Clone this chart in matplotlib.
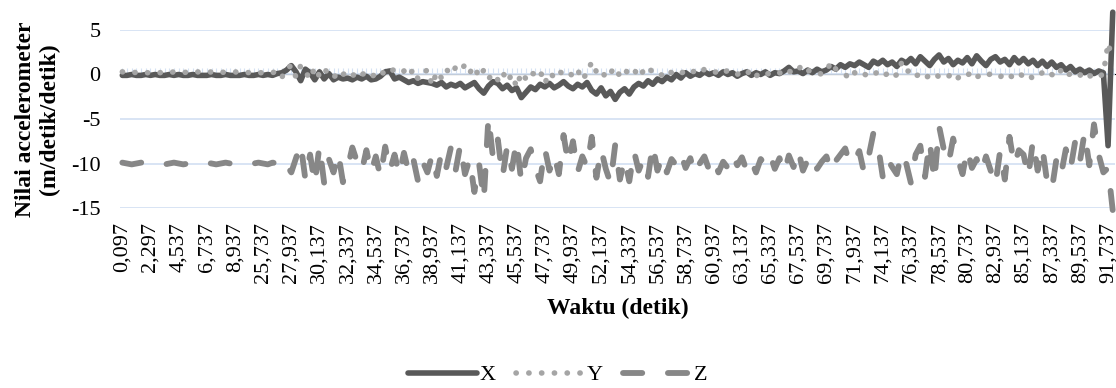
import matplotlib.pyplot as plt
import numpy as np

# time labels shown on the category axis (one every 6 samples)
time_labels = ["0,097", "2,297", "4,537", "6,737", "8,937", "25,737", "27,937",
               "30,137", "32,337", "34,537", "36,737", "38,937", "41,137", "43,337",
               "45,537", "47,737", "49,937", "52,137", "54,337", "56,537", "58,737",
               "60,937", "63,137", "65,337", "67,537", "69,737", "71,937", "74,137",
               "76,337", "78,537", "80,737", "82,937", "85,137", "87,337", "89,537",
               "91,737"]
step = 6

x_acc = [
    -0.1, -0.1, 0.0, -0.1, -0.1, 0.0,
    -0.1, 0.0, -0.1, -0.1, 0.0, -0.1,
    0.0, -0.1, -0.1, 0.0, -0.1, -0.1,
    -0.1, 0.0, -0.1, -0.1, 0.0, -0.1,
    -0.1, -0.1, 0.0, -0.1, -0.1, 0.0,
    -0.1, 0.0, -0.1, 0.1, 0.2, 0.5,
    1.0, 0.3, -0.7, 0.6, 0.2, -0.6,
    0.3, -0.5, 0.1, -0.6, -0.3, -0.5,
    -0.4, -0.6, -0.3, -0.5, -0.2, -0.6,
    -0.5, -0.2, 0.3, 0.4, -0.5, -0.3,
    -0.6, -0.9, -0.7, -1.0, -0.8, -0.9,
    -1.0, -1.2, -0.9, -1.4, -1.1, -1.3,
    -1.0, -1.5, -1.2, -0.9, -1.6, -2.1,
    -1.3, -0.8, -1.0, -1.6, -1.2, -1.8,
    -1.5, -2.6, -2.0, -1.4, -1.7, -1.1,
    -1.4, -1.0, -1.5, -1.2, -0.8, -1.3,
    -1.6, -1.1, -1.4, -0.9, -1.8, -2.2,
    -1.5, -2.4, -1.9, -2.8, -2.0, -1.6,
    -2.2, -1.4, -1.0, -1.3, -0.7, -1.1,
    -0.5, -0.8, -0.3, -0.6, 0.0, -0.4,
    0.2, -0.2, 0.1, -0.1, 0.3, 0.0,
    0.2, -0.1, 0.3, 0.0, 0.2, -0.2,
    0.1, 0.3, -0.1, 0.2, 0.0, 0.3,
    -0.1, 0.2, 0.1, 0.4, 0.8, 0.3,
    0.4, 0.1, 0.5, 0.2, 0.6, 0.3,
    0.5, 0.9, 0.6, 1.1, 0.8, 1.2,
    1.0, 1.4, 1.1, 0.8, 1.5, 1.2,
    1.6, 1.1, 1.4, 0.9, 1.6, 1.3,
    1.8, 1.2, 2.0, 1.5, 1.0, 1.7,
    2.2, 1.4, 1.8, 1.1, 1.6, 1.3,
    1.9, 1.2, 2.1, 1.5, 1.0, 1.7,
    2.0, 1.4, 1.7, 1.1, 1.9, 1.3,
    1.8, 1.2, 1.6, 1.0, 1.5, 0.9,
    1.4, 0.8, 1.1, 0.5, 0.9, 0.3,
    0.6, 0.2, 0.5, 0.1, 0.4, 0.2,
    -8.0, 7.0,
]

y_acc = [
    0.3, 0.2, 0.3, 0.2, 0.3, 0.2,
    0.2, 0.3, 0.2, 0.3, 0.2, 0.3,
    0.3, 0.2, 0.3, 0.2, 0.3, 0.2,
    0.2, 0.3, 0.2, 0.3, 0.2, 0.3,
    0.3, 0.2, 0.3, 0.2, 0.3, 0.2,
    0.2, 0.3, 0.2, 0.4, -0.3, 0.7,
    1.0, -0.3, 1.0, 0.3, -0.5, 0.8,
    -0.2, 0.6, 0.1, -0.4, 0.4, 0.0,
    0.3, -0.2, 0.4, 0.0, 0.2, -0.3,
    0.1, 0.5, -0.1, 0.3, 0.6, 0.2,
    0.4, -0.2, 0.6, -0.5, 0.2, 0.5,
    -1.2, 0.3, -0.4, 0.6, 0.0, 0.8,
    0.4, 1.1, 0.2, 0.9, -0.3, 0.5,
    -0.5, 0.1, -0.6, 0.3, -0.8, 0.0,
    -1.4, 0.2, -0.5, 0.3, -0.1, 0.4,
    -1.0, 0.2, -0.3, 0.4, 0.0, 0.3,
    -0.2, 0.5, -0.6, 0.2, 1.4, 0.3,
    0.6, -0.4, 0.2, 0.8, -0.2, 0.5,
    0.1, 0.6, -0.3, 0.4, 0.9, 0.2,
    0.3, -0.1, 0.5, 0.2, 0.4, 0.1,
    0.5, 0.2, 0.4, 0.1, 0.6, 0.3,
    0.2, 0.4, 0.1, 0.5, 0.2, 0.0,
    0.4, 0.1, 0.5, -0.2, 0.3, 0.2,
    0.0, 0.3, 0.2, -0.1, 0.4, 0.1,
    0.6, 1.1, 0.5, 0.2, 0.3, 0.0,
    0.4, 1.4, 0.6, 0.3, 0.0, -0.5,
    0.2, -0.2, 0.1, -0.3, 0.0, 0.3,
    -0.2, 0.1, -0.4, 0.0, 1.3, 0.3,
    0.5, -0.2, 0.1, -0.4, -0.1, 0.2,
    -0.3, 0.0, -0.2, 0.2, -0.4, 0.1,
    -0.1, 0.3, -0.3, 0.0, -0.2, 0.1,
    0.0, -0.3, 0.2, -0.1, -0.4, 0.1,
    -0.2, 0.1, -0.5, -0.1, 0.2, -0.3,
    0.0, -0.3, 0.5, -0.2, 0.1, -0.3,
    -0.1, 0.3, -0.2, 0.0, -0.3, 0.1,
    3.5, 1.6,
]

z_acc = [
    -9.9, -10.0, -10.1, -10.0, -9.9, -10.0,
    -10.0, -9.9, -10.0, -10.1, -10.0, -9.9,
    -10.0, -10.1, -10.0, -9.9, -10.0, -10.0,
    -9.9, -10.0, -10.1, -10.0, -9.9, -10.0,
    -10.0, -9.9, -10.0, -10.1, -10.0, -9.9,
    -10.0, -10.1, -9.9, -10.0, -10.8, -10.2,
    -11.0, -9.4, -7.8, -11.8, -9.0, -12.3,
    -8.0, -12.2, -9.5, -11.0, -8.8, -12.1,
    -10.5, -8.2, -9.8, -10.9, -8.5, -11.0,
    -9.2, -11.5, -8.1, -10.8, -9.0, -11.3,
    -8.8, -11.0, -9.5, -12.0, -9.8, -11.0,
    -9.0, -11.4, -8.7, -10.5, -8.2, -10.8,
    -7.9, -11.2, -9.5, -13.2, -10.0, -14.1,
    -4.8, -9.5, -7.3, -11.5, -8.0, -10.6,
    -7.5, -12.1, -9.4, -8.4, -10.5, -12.0,
    -8.3, -10.8, -9.0, -11.2, -6.8, -10.0,
    -7.5, -11.0, -9.2, -10.4, -7.0, -11.6,
    -8.4, -10.6, -12.2, -7.9, -11.8, -9.5,
    -12.0, -8.6, -10.8, -9.5, -11.5, -7.9,
    -10.8, -9.2, -11.0, -9.5, -10.2, -8.9,
    -10.5, -9.4, -11.2, -10.0, -9.2, -10.7,
    -9.6, -11.0, -9.8, -10.5, -9.0, -10.2,
    -9.3, -10.8, -9.7, -11.0, -9.5, -10.1,
    -9.0, -10.6, -9.4, -11.0, -9.1, -10.4,
    -8.5, -10.8, -9.6, -9.0, -10.6, -9.8,
    -9.2, -10.9, -9.7, -9.0, -8.3, -10.1,
    -9.6, -8.6, -11.0, -9.2, -6.6, -8.0,
    -11.5, -9.5, -10.4, -11.2, -8.8, -10.0,
    -12.2, -9.0, -8.0, -11.5, -7.5, -12.0,
    -5.8, -8.4, -10.0, -7.2, -9.5, -11.2,
    -8.4, -10.5, -9.5, -11.0, -9.2, -10.8,
    -12.4, -8.6, -11.8, -7.0, -10.2, -8.5,
    -9.0, -11.5, -7.4, -10.8, -8.2, -12.0,
    -13.0, -9.5, -11.2, -8.4, -10.6, -7.5,
    -9.8, -6.5, -10.2, -5.6, -9.0, -11.0,
    -10.5, -15.3,
]

plt.rcParams['font.family'] = ['Liberation Serif', 'DejaVu Serif']
fs = 16
fs_lab = 17
grid_col = '#D6E2F3'

fig = plt.figure(figsize=(11.16, 3.88), dpi=100)
ax = fig.add_axes([0.1075, 0.4639, 0.8917, 0.4588])

n = len(x_acc)
idx = np.arange(n)

ax.plot(idx, x_acc, color='#595959', lw=4.0, solid_capstyle='round',
        solid_joinstyle='round', label='X', clip_on=False, zorder=3)
ax.plot(idx, y_acc, color='#A5A5A5', lw=4.0, linestyle=(0, (0.05, 2.25)),
        dash_capstyle='round', label='Y', clip_on=False, zorder=4)
ax.plot(idx, z_acc, color='#878787', lw=4.2, linestyle=(0, (3.3, 4.4)),
        dash_capstyle='round', dash_joinstyle='round', label='Z',
        clip_on=False, zorder=5)

ax.set_xlim(-0.5, n - 0.5)
ax.set_ylim(-15, 5)
ax.set_yticks([5, 0, -5, -10, -15])
ax.set_yticklabels(['5', '0', '-5', '-10', '-15'], fontsize=fs)
ax.set_xticks(idx[::step][:len(time_labels)])
ax.set_xticklabels(time_labels, rotation=90, fontsize=fs)
ax.tick_params(axis='both', length=0)
ax.tick_params(axis='x', pad=10)
ax.tick_params(axis='y', pad=14)
ax.grid(axis='y', color=grid_col, lw=1.3)
ax.set_axisbelow(True)
for s in ax.spines.values():
    s.set_visible(False)

# category axis crosses at 0, with dense tick marks
sec = ax.secondary_xaxis(0.75)
sec.set_xticks(idx)
sec.set_xticklabels([])
sec.tick_params(axis='x', direction='out', length=4, color=grid_col, width=0.8)
sec.spines['bottom'].set_color(grid_col)
sec.spines['bottom'].set_linewidth(1.3)

ax.set_ylabel('Nilai accelerometer\n(m/detik/detik)', fontsize=fs_lab,
              fontweight='bold', linespacing=1.2)
ax.yaxis.set_label_coords(-0.060, 0.5)
ax.set_xlabel('Waktu (detik)', fontsize=fs_lab, fontweight='bold', labelpad=11)

fig.legend(loc='center', bbox_to_anchor=(0.5, 0.033), ncol=3, frameon=False,
           fontsize=fs, handlelength=3.1, handletextpad=0.1, columnspacing=0.9)

fig.savefig('out.png', dpi=100)
